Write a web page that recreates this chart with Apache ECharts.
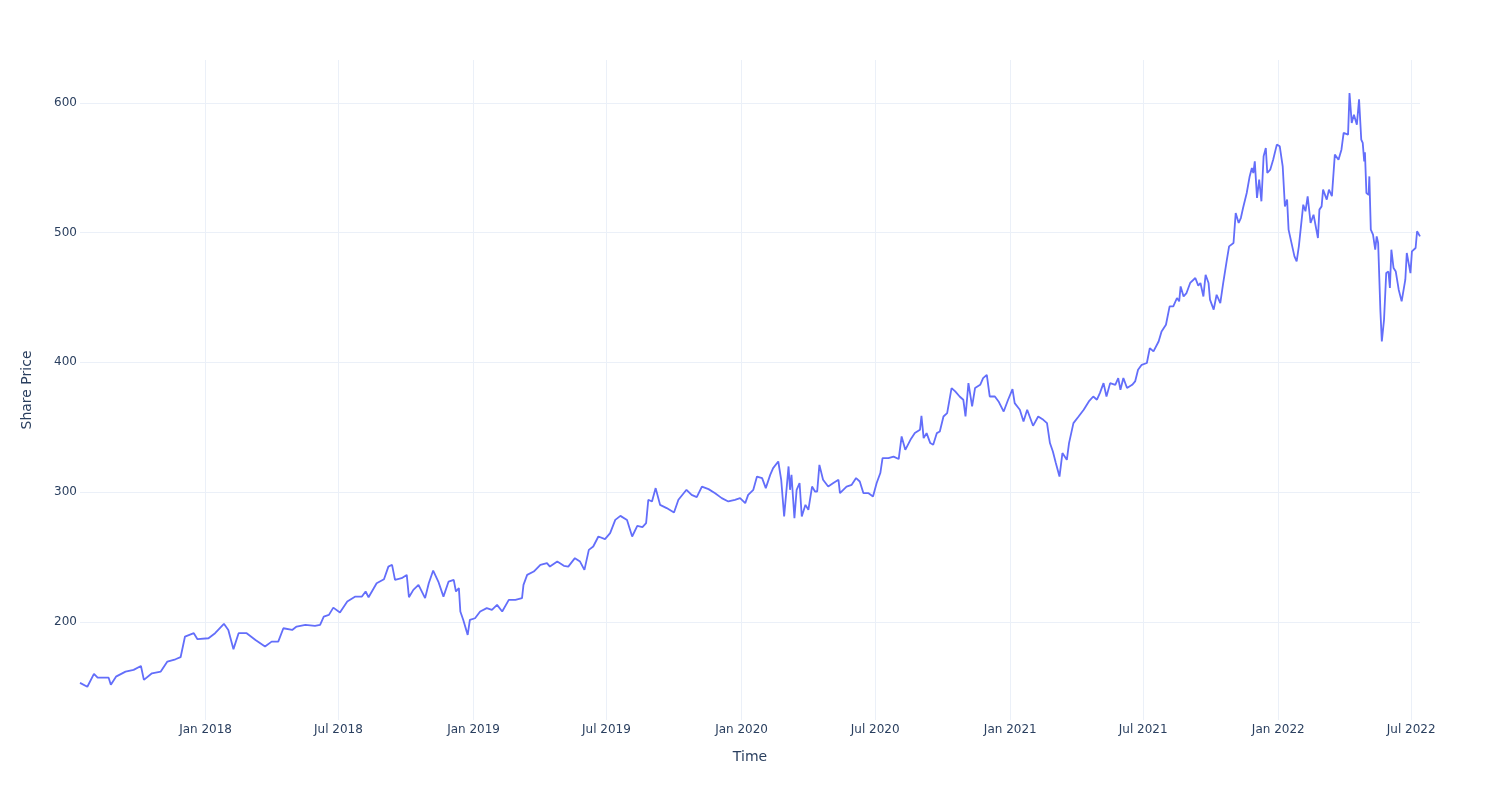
<!DOCTYPE html>
<html>
<head>
<meta charset="utf-8">
<script src="https://cdn.jsdelivr.net/npm/echarts@6/dist/echarts.min.js"></script>
<style>
html,body{margin:0;padding:0;background:#fff;}
#chart{width:1500px;height:800px;}
</style>
</head>
<body>
<div id="chart"></div>
<script>
const dates = [
"2017-07-14","2017-07-24","2017-08-02","2017-08-07","2017-08-15","2017-08-22","2017-08-25","2017-09-01","2017-09-14","2017-09-25",
"2017-10-05","2017-10-09","2017-10-20","2017-11-01","2017-11-10","2017-11-21","2017-11-28","2017-12-04","2017-12-16","2017-12-21",
"2018-01-05","2018-01-14","2018-01-26","2018-02-01","2018-02-08","2018-02-15","2018-02-26","2018-03-10","2018-03-23","2018-04-01",
"2018-04-10","2018-04-17","2018-04-29","2018-05-05","2018-05-17","2018-05-19","2018-05-30","2018-06-06","2018-06-11","2018-06-18",
"2018-06-24","2018-07-03","2018-07-13","2018-07-24","2018-08-02","2018-08-07","2018-08-11","2018-08-22","2018-09-01","2018-09-07",
"2018-09-12","2018-09-16","2018-09-25","2018-10-02","2018-10-05","2018-10-11","2018-10-18","2018-10-27","2018-11-01","2018-11-07",
"2018-11-14","2018-11-21","2018-11-28","2018-12-05","2018-12-08","2018-12-12","2018-12-14","2018-12-18","2018-12-24","2018-12-27",
"2019-01-03","2019-01-10","2019-01-19","2019-01-26","2019-02-02","2019-02-09","2019-02-18","2019-02-27","2019-03-08","2019-03-10",
"2019-03-15","2019-03-24","2019-04-02","2019-04-11","2019-04-15","2019-04-25","2019-05-04","2019-05-10","2019-05-19","2019-05-26",
"2019-06-01","2019-06-07","2019-06-13","2019-06-20","2019-06-29","2019-07-06","2019-07-13","2019-07-20","2019-07-29","2019-08-05",
"2019-08-12","2019-08-19","2019-08-24","2019-08-27","2019-09-01","2019-09-06","2019-09-12","2019-09-21","2019-10-01","2019-10-07",
"2019-10-18","2019-10-25","2019-11-01","2019-11-08","2019-11-17","2019-11-26","2019-12-05","2019-12-14","2019-12-23","2019-12-30",
"2020-01-06","2020-01-10","2020-01-17","2020-01-22","2020-01-29","2020-02-03","2020-02-09","2020-02-13","2020-02-20","2020-02-24",
"2020-02-28","2020-03-05","2020-03-07","2020-03-09","2020-03-13","2020-03-16","2020-03-20","2020-03-23","2020-03-28","2020-04-01",
"2020-04-06","2020-04-10","2020-04-13","2020-04-16","2020-04-21","2020-04-28","2020-05-05","2020-05-12","2020-05-14","2020-05-23",
"2020-05-30","2020-06-05","2020-06-10","2020-06-15","2020-06-22","2020-06-28","2020-07-03","2020-07-08","2020-07-11","2020-07-19",
"2020-07-26","2020-08-02","2020-08-06","2020-08-11","2020-08-18","2020-08-24","2020-08-31","2020-09-02","2020-09-05","2020-09-09",
"2020-09-14","2020-09-18","2020-09-23","2020-09-27","2020-10-02","2020-10-07","2020-10-13","2020-10-18","2020-10-24","2020-10-29",
"2020-11-01","2020-11-05","2020-11-10","2020-11-14","2020-11-21","2020-11-25","2020-11-30","2020-12-04","2020-12-11","2020-12-16",
"2020-12-23","2020-12-29","2021-01-04","2021-01-07","2021-01-14","2021-01-19","2021-01-24","2021-02-01","2021-02-08","2021-02-15",
"2021-02-20","2021-02-24","2021-02-28","2021-03-04","2021-03-09","2021-03-13","2021-03-19","2021-03-22","2021-03-28","2021-04-04",
"2021-04-11","2021-04-18","2021-04-24","2021-04-29","2021-05-03","2021-05-08","2021-05-12","2021-05-17","2021-05-24","2021-05-28",
"2021-05-31","2021-06-04","2021-06-09","2021-06-16","2021-06-20","2021-06-24","2021-06-29","2021-07-06","2021-07-10","2021-07-15",
"2021-07-22","2021-07-26","2021-08-01","2021-08-06","2021-08-11","2021-08-16","2021-08-19","2021-08-21","2021-08-25","2021-08-29",
"2021-09-03","2021-09-10","2021-09-14","2021-09-17","2021-09-21","2021-09-24","2021-09-28","2021-09-30","2021-10-05","2021-10-09",
"2021-10-14","2021-10-18","2021-10-23","2021-10-26","2021-11-01","2021-11-04","2021-11-08","2021-11-11","2021-11-14","2021-11-19",
"2021-11-23","2021-11-26","2021-11-28","2021-11-30","2021-12-03","2021-12-06","2021-12-09","2021-12-12","2021-12-15","2021-12-17",
"2021-12-21","2021-12-25","2021-12-30","2022-01-03","2022-01-07","2022-01-10","2022-01-13","2022-01-15","2022-01-20","2022-01-23",
"2022-01-26","2022-01-29","2022-02-04","2022-02-07","2022-02-10","2022-02-14","2022-02-18","2022-02-24","2022-02-26","2022-03-01",
"2022-03-03","2022-03-08","2022-03-11","2022-03-15","2022-03-19","2022-03-24","2022-03-28","2022-03-31","2022-04-06","2022-04-08",
"2022-04-11","2022-04-14","2022-04-18","2022-04-21","2022-04-24","2022-04-26","2022-04-28","2022-04-29","2022-05-01","2022-05-04",
"2022-05-05","2022-05-07","2022-05-10","2022-05-13","2022-05-15","2022-05-17","2022-05-20","2022-05-22","2022-05-25","2022-05-28",
"2022-05-31","2022-06-02","2022-06-04","2022-06-07","2022-06-10","2022-06-14","2022-06-18","2022-06-23","2022-06-25","2022-06-27",
"2022-06-30","2022-07-02","2022-07-07","2022-07-09","2022-07-13"
];
const prices = [
153,150,160,157,157,157,151.5,157.8,161.7,163,
166,155.3,160.4,161.7,169.4,171.2,172.8,188.7,191.3,186.7,
187.4,191.3,198.5,193.8,179,191.3,191.3,186,181,184.8,
184.8,195.1,193.8,196.4,197.7,199,196.9,197.7,204.1,205.4,
211,207.2,215.7,219.5,219.5,223.4,219,229.8,232.9,242.6,
244,232.4,233.7,236.2,219,224.7,228.5,218.3,229.8,239.6,
231.1,219.5,231.1,232.4,223.4,226,208,201.5,190,201.5,
202.8,208,210.6,209.3,213.1,208,217,217,218.3,228.5,
236.2,238.8,244,245.3,242.6,246.5,243.2,242.6,249.1,246.5,
240.1,255.5,258.1,265.8,263.8,268.4,278.6,281.7,278.6,265.8,
274,273,276.1,294.1,292.8,303.1,290.2,287.7,284.3,294.1,
301.8,297.9,296.1,304.3,302.3,299.2,295.4,292.8,294.1,295.4,
291.5,297.9,301.8,312,310.8,303.1,313.3,318.5,323.6,309.5,
281.2,319.8,301.8,313.3,280,301.8,307,281.2,290.2,286.4,
304.3,300.5,300.5,321,309.5,304.3,307,309.5,299.2,304.3,
305.6,310.8,308.2,299.2,299.2,296.6,307,314.7,326.2,326.2,
327.4,325.5,342.9,332.6,340.3,345.5,348,358.8,341.6,345.5,
337.8,336.5,345.5,346.7,358.3,360.9,380.2,377.6,373.7,371.2,
358.3,384,366,380.2,382.7,387.9,390.4,373.7,373.7,369.9,
362.1,371.2,379.4,368.6,363.5,354.4,363.5,351.1,358.3,355.7,
353.2,337.8,331.3,322.4,312,330.1,324.9,337.8,353.2,358.3,
363.5,369.9,373.7,371.2,376.3,384,373.7,384,382.7,387.9,
378.9,387.9,380.2,382.7,385.3,394.3,398.1,399.5,411,408.4,
416.1,423.8,429,443.1,443.1,449.6,447,458.5,450.8,453.4,
461.2,465,459.1,461.2,450.8,467.5,461.2,448.3,440.6,452.1,
445.7,461.2,479.1,489.4,492,515.1,507.4,511.2,518.9,530.5,
543.3,549.8,545.9,554.9,526.7,540.8,524.1,558.8,565.2,545.9,
548.5,556.2,567.8,566.5,551.1,520.2,525.4,502.3,489.4,481.7,
477.8,489.4,521.5,516.4,528,507.4,513.8,495.8,517.7,520.2,
533.1,525.4,533.1,528,560.1,556.2,563.9,576.8,575.5,607.6,
584.5,590.9,583.2,602.7,571.6,569.1,554.9,561.9,530.5,529.2,
543.3,502.3,498.4,486.8,497.1,492,440.6,416.1,432.8,468.8,
470,457.3,486.8,472.7,470,456,447,463.7,484.3,483,
468.8,485.5,488.1,501,497.1
];
const xTitle = "Time";
const yTitle = "Share Price";
const monthNames = ["Jan","Feb","Mar","Apr","May","Jun","Jul","Aug","Sep","Oct","Nov","Dec"];

const seriesData = dates.map((d, i) => [d, prices[i]]);
const textColor = "#2a3f5f";
const gridColor = "#ebf0f8";
const font = "DejaVu Sans";

const chart = echarts.init(document.getElementById("chart"), null, {renderer: "canvas"});
chart.setOption({
  backgroundColor: "#ffffff",
  animation: false,
  grid: {left: 80, right: 80, top: 60, bottom: 80, containLabel: false},
  xAxis: {
    type: "time",
    min: dates[0],
    max: dates[dates.length - 1],
    splitNumber: 10,
    name: xTitle,
    nameLocation: "middle",
    nameGap: 30,
    nameTextStyle: {color: textColor, fontSize: 14, fontFamily: font},
    axisLine: {show: false},
    axisTick: {show: false},
    axisLabel: {
      color: textColor, fontSize: 12, fontFamily: font, margin: 4,
      showMinLabel: false, showMaxLabel: false,
      formatter: function (v) {
        const d = new Date(v);
        return monthNames[d.getMonth()] + " " + d.getFullYear();
      }
    },
    splitLine: {show: true, showMinLine: false, showMaxLine: false, lineStyle: {color: gridColor, width: 1}}
  },
  yAxis: {
    type: "value",
    min: 124.4,
    max: 633,
    splitNumber: 5,
    name: yTitle,
    nameLocation: "middle",
    nameGap: 46,
    nameTextStyle: {color: textColor, fontSize: 14, fontFamily: font},
    axisLine: {show: false},
    axisTick: {show: false},
    axisLabel: {
      color: textColor, fontSize: 12, fontFamily: font, margin: 3,
      showMinLabel: false, showMaxLabel: false,
      formatter: function (v) { return (v % 100 === 0) ? String(v) : ""; }
    },
    splitLine: {show: true, showMinLine: false, showMaxLine: false, lineStyle: {color: gridColor, width: 1}}
  },
  series: [{
    type: "line",
    data: seriesData,
    showSymbol: false,
    symbol: "none",
    lineStyle: {color: "#636efa", width: 1.8},
    itemStyle: {color: "#636efa"}
  }]
});
</script>
</body>
</html>
